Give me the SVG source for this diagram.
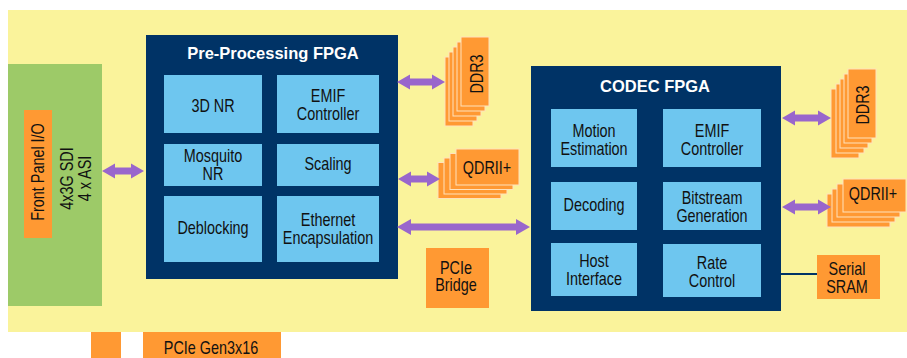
<svg xmlns="http://www.w3.org/2000/svg" width="907" height="358" viewBox="0 0 907 358">
<style>
.t{font-family:"Liberation Sans",Arial,sans-serif;font-size:18px;fill:#111;text-anchor:middle}
.h{font-family:"Liberation Sans",Arial,sans-serif;font-size:16.5px;font-weight:bold;fill:#fff;text-anchor:middle}
.fpga{fill:#003366}
.blk{fill:#6EC6EF}
.org{fill:#FF9933}
.lay{fill:#FF9933;stroke:#FFE2BC;stroke-width:1}
.arr{fill:#9966CC}
</style>
<rect x="8" y="10" width="899" height="322" fill="#FAF39B"/>
<g id="front-panel">
<rect x="8" y="64" width="94" height="242" fill="#9DCA68"/>
<rect class="org" x="24" y="110" width="28" height="128"/>
<text class="t" transform="translate(43.5,172) rotate(-90) scale(0.8,1)">Front Panel I/O</text>
<text class="t" transform="translate(72.5,178.5) rotate(-90) scale(0.8,1)">4x3G SDI</text>
<text class="t" transform="translate(90.5,178.5) rotate(-90) scale(0.8,1)">4 x ASI</text>
</g>
<g id="preproc-fpga">
<rect class="fpga" x="146" y="35" width="252" height="244"/>
<text class="h" x="273" y="59">Pre-Processing FPGA</text>
</g>
<g id="pp-3dnr"><rect class="blk" x="164" y="75" width="98" height="58"/><text class="t" transform="matrix(0.8 0 0 1 213 112)">3D NR</text></g>
<g id="pp-emif"><rect class="blk" x="277" y="75" width="102" height="58"/><text class="t" transform="matrix(0.8 0 0 1 328 101.5)">EMIF</text><text class="t" transform="matrix(0.8 0 0 1 328 119.5)">Controller</text></g>
<g id="pp-mosquito"><rect class="blk" x="164" y="144" width="98" height="42"/><text class="t" transform="matrix(0.8 0 0 1 213 161.5)">Mosquito</text><text class="t" transform="matrix(0.8 0 0 1 213 179.5)">NR</text></g>
<g id="pp-scaling"><rect class="blk" x="277" y="144" width="102" height="42"/><text class="t" transform="matrix(0.8 0 0 1 328 170)">Scaling</text></g>
<g id="pp-deblocking"><rect class="blk" x="164" y="196" width="98" height="66"/><text class="t" transform="matrix(0.8 0 0 1 213 233.5)">Deblocking</text></g>
<g id="pp-ethernet"><rect class="blk" x="277" y="196" width="102" height="66"/><text class="t" transform="matrix(0.8 0 0 1 328 225.5)">Ethernet</text><text class="t" transform="matrix(0.8 0 0 1 328 243.5)">Encapsulation</text></g>
<g id="ddr3-left">
<rect class="lay" x="445" y="57" width="28" height="69"/>
<rect class="lay" x="449" y="52" width="28" height="69"/>
<rect class="lay" x="453" y="47" width="28" height="69"/>
<rect class="lay" x="457" y="42" width="28" height="69"/>
<rect class="lay" x="461" y="37" width="28" height="69"/>
<text class="t" transform="translate(482.5,74) rotate(-90) scale(0.8,1)">DDR3</text>
</g>
<g id="qdr-left">
<rect class="lay" x="438" y="162.5" width="63" height="36"/>
<rect class="lay" x="444" y="158" width="63" height="36"/>
<rect class="lay" x="450" y="153.5" width="63" height="36"/>
<rect class="lay" x="456" y="149" width="63" height="36"/>
<text class="t" transform="matrix(0.8 0 0 1 487 173.5)">QDRII+</text>
</g>
<g id="pcie-bridge">
<rect class="org" x="426" y="248" width="63" height="60"/>
<text class="t" transform="matrix(0.8 0 0 1 456 273.5)">PCIe</text>
<text class="t" transform="matrix(0.8 0 0 1 456 291)">Bridge</text>
</g>
<g id="codec-fpga">
<rect class="fpga" x="531" y="66" width="250" height="245"/>
<text class="h" x="655" y="91.5">CODEC FPGA</text>
</g>
<g id="c-motion"><rect class="blk" x="551" y="109" width="86" height="58"/><text class="t" transform="matrix(0.8 0 0 1 594 136.5)">Motion</text><text class="t" transform="matrix(0.8 0 0 1 594 154.5)">Estimation</text></g>
<g id="c-emif"><rect class="blk" x="663" y="109" width="98" height="58"/><text class="t" transform="matrix(0.8 0 0 1 712 136.5)">EMIF</text><text class="t" transform="matrix(0.8 0 0 1 712 154.5)">Controller</text></g>
<g id="c-decoding"><rect class="blk" x="551" y="182" width="86" height="48"/><text class="t" transform="matrix(0.8 0 0 1 594 211)">Decoding</text></g>
<g id="c-bitstream"><rect class="blk" x="663" y="182" width="98" height="48"/><text class="t" transform="matrix(0.8 0 0 1 712 203.5)">Bitstream</text><text class="t" transform="matrix(0.8 0 0 1 712 221.5)">Generation</text></g>
<g id="c-host"><rect class="blk" x="551" y="243" width="86" height="53"/><text class="t" transform="matrix(0.8 0 0 1 594 267)">Host</text><text class="t" transform="matrix(0.8 0 0 1 594 285)">Interface</text></g>
<g id="c-rate"><rect class="blk" x="663" y="244" width="98" height="53"/><text class="t" transform="matrix(0.8 0 0 1 712 268.5)">Rate</text><text class="t" transform="matrix(0.8 0 0 1 712 286.5)">Control</text></g>
<g id="ddr3-right">
<rect class="lay" x="831" y="89" width="28" height="69"/>
<rect class="lay" x="836" y="84" width="28" height="69"/>
<rect class="lay" x="840" y="79" width="28" height="69"/>
<rect class="lay" x="844" y="74" width="28" height="69"/>
<rect class="lay" x="848" y="69" width="28" height="69"/>
<text class="t" transform="translate(868.5,105) rotate(-90) scale(0.8,1)">DDR3</text>
</g>
<g id="qdr-right">
<rect class="lay" x="827" y="194" width="63" height="33"/>
<rect class="lay" x="832" y="189" width="63" height="33"/>
<rect class="lay" x="837" y="184" width="63" height="33"/>
<rect class="lay" x="843" y="179" width="63" height="33"/>
<text class="t" transform="matrix(0.8 0 0 1 873 200)">QDRII+</text>
</g>
<g id="serial-sram">
<rect class="org" x="817" y="255" width="63" height="44"/>
<text class="t" transform="matrix(0.8 0 0 1 847 275)">Serial</text>
<text class="t" transform="matrix(0.8 0 0 1 847 292.5)">SRAM</text>
</g>
<g id="pcie-small"><rect class="org" x="91" y="332" width="30" height="26"/></g>
<g id="pcie-gen3">
<rect class="org" x="143" y="332" width="138" height="26"/>
<text class="t" transform="matrix(0.8 0 0 1 211 353.5)">PCIe Gen3x16</text>
</g>
<g id="connectors">
<polygon class="arr" points="102,171 115,163.5 115,167.5 131,167.5 131,163.5 144,171 131,178.5 131,174.5 115,174.5 115,178.5"/>
<polygon class="arr" points="397,82 410,74.5 410,78.5 432,78.5 432,74.5 445,82 432,89.5 432,85.5 410,85.5 410,89.5"/>
<polygon class="arr" points="398,179 411,171.5 411,175.5 427,175.5 427,171.5 440,179 427,186.5 427,182.5 411,182.5 411,186.5"/>
<polygon class="arr" points="397,227 411,219 411,223.5 516,223.5 516,219 530,227 516,235 516,230.5 411,230.5 411,235"/>
<polygon class="arr" points="782,118 795,110.5 795,114.5 818,114.5 818,110.5 831,118 818,125.5 818,121.5 795,121.5 795,125.5"/>
<polygon class="arr" points="782,207 795,199.5 795,203.5 818,203.5 818,199.5 831,207 818,214.5 818,210.5 795,210.5 795,214.5"/>
<line x1="781" y1="274" x2="817" y2="274" stroke="#003366" stroke-width="2"/>
</g>
</svg>
